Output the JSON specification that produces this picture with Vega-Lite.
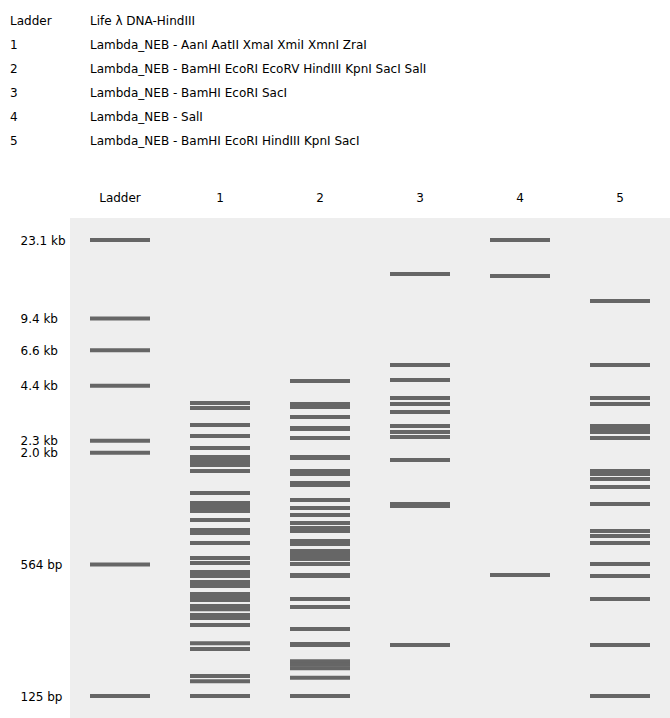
{
  "$schema": "https://vega.github.io/schema/vega-lite/v6.json",
  "padding": {"left": 10, "top": 9, "right": 0, "bottom": 0},
  "bounds": "flush",
  "spacing": 65,
  "config": {"font": "DejaVu Sans", "view": {"stroke": null}},
  "datasets": {
    "lanes": [
      {"lane": "Ladder", "desc": "Life λ DNA-HindIII"},
      {"lane": "1", "desc": "Lambda_NEB - AanI AatII XmaI XmiI XmnI ZraI"},
      {"lane": "2", "desc": "Lambda_NEB - BamHI EcoRI EcoRV HindIII KpnI SacI SalI"},
      {"lane": "3", "desc": "Lambda_NEB - BamHI EcoRI SacI"},
      {"lane": "4", "desc": "Lambda_NEB - SalI"},
      {"lane": "5", "desc": "Lambda_NEB - BamHI EcoRI HindIII KpnI SacI"}
    ],
    "bands": [
      {"lane": "Ladder", "bp": 23130}, {"lane": "Ladder", "bp": 9416}, {"lane": "Ladder", "bp": 6557},
      {"lane": "Ladder", "bp": 4361}, {"lane": "Ladder", "bp": 2322}, {"lane": "Ladder", "bp": 2027},
      {"lane": "Ladder", "bp": 564}, {"lane": "Ladder", "bp": 125},

      {"lane": "1", "bp": 3578}, {"lane": "1", "bp": 3380}, {"lane": "1", "bp": 2781}, {"lane": "1", "bp": 2453},
      {"lane": "1", "bp": 2138}, {"lane": "1", "bp": 1929}, {"lane": "1", "bp": 1842}, {"lane": "1", "bp": 1760},
      {"lane": "1", "bp": 1643}, {"lane": "1", "bp": 1277}, {"lane": "1", "bp": 1139}, {"lane": "1", "bp": 1088},
      {"lane": "1", "bp": 1039}, {"lane": "1", "bp": 937}, {"lane": "1", "bp": 836}, {"lane": "1", "bp": 808},
      {"lane": "1", "bp": 720}, {"lane": "1", "bp": 607}, {"lane": "1", "bp": 573}, {"lane": "1", "bp": 517},
      {"lane": "1", "bp": 494}, {"lane": "1", "bp": 461}, {"lane": "1", "bp": 440}, {"lane": "1", "bp": 402},
      {"lane": "1", "bp": 388}, {"lane": "1", "bp": 375}, {"lane": "1", "bp": 350}, {"lane": "1", "bp": 338},
      {"lane": "1", "bp": 316}, {"lane": "1", "bp": 305}, {"lane": "1", "bp": 282}, {"lane": "1", "bp": 229},
      {"lane": "1", "bp": 214}, {"lane": "1", "bp": 157}, {"lane": "1", "bp": 148}, {"lane": "1", "bp": 125},

      {"lane": "2", "bp": 4603}, {"lane": "2", "bp": 3538}, {"lane": "2", "bp": 3418}, {"lane": "2", "bp": 3049},
      {"lane": "2", "bp": 2688}, {"lane": "2", "bp": 2657}, {"lane": "2", "bp": 2397}, {"lane": "2", "bp": 1929},
      {"lane": "2", "bp": 1907}, {"lane": "2", "bp": 1643}, {"lane": "2", "bp": 1587}, {"lane": "2", "bp": 1432},
      {"lane": "2", "bp": 1399}, {"lane": "2", "bp": 1179}, {"lane": "2", "bp": 1076}, {"lane": "2", "bp": 993},
      {"lane": "2", "bp": 906}, {"lane": "2", "bp": 855}, {"lane": "2", "bp": 827}, {"lane": "2", "bp": 737},
      {"lane": "2", "bp": 712}, {"lane": "2", "bp": 657}, {"lane": "2", "bp": 628}, {"lane": "2", "bp": 600},
      {"lane": "2", "bp": 567}, {"lane": "2", "bp": 500}, {"lane": "2", "bp": 494}, {"lane": "2", "bp": 380},
      {"lane": "2", "bp": 346}, {"lane": "2", "bp": 269}, {"lane": "2", "bp": 227}, {"lane": "2", "bp": 224},
      {"lane": "2", "bp": 186}, {"lane": "2", "bp": 179}, {"lane": "2", "bp": 172}, {"lane": "2", "bp": 154},
      {"lane": "2", "bp": 125},

      {"lane": "3", "bp": 15672}, {"lane": "3", "bp": 5528}, {"lane": "3", "bp": 4656}, {"lane": "3", "bp": 3789},
      {"lane": "3", "bp": 3538}, {"lane": "3", "bp": 3228}, {"lane": "3", "bp": 2750}, {"lane": "3", "bp": 2567},
      {"lane": "3", "bp": 2425}, {"lane": "3", "bp": 1863}, {"lane": "3", "bp": 1126}, {"lane": "3", "bp": 1100},
      {"lane": "3", "bp": 224},

      {"lane": "4", "bp": 23130}, {"lane": "4", "bp": 15317}, {"lane": "4", "bp": 500},

      {"lane": "5", "bp": 11505}, {"lane": "5", "bp": 5528}, {"lane": "5", "bp": 3789}, {"lane": "5", "bp": 3538},
      {"lane": "5", "bp": 2750}, {"lane": "5", "bp": 2657}, {"lane": "5", "bp": 2567}, {"lane": "5", "bp": 2397},
      {"lane": "5", "bp": 1643}, {"lane": "5", "bp": 1587}, {"lane": "5", "bp": 1499}, {"lane": "5", "bp": 1368},
      {"lane": "5", "bp": 1126}, {"lane": "5", "bp": 827}, {"lane": "5", "bp": 781}, {"lane": "5", "bp": 720},
      {"lane": "5", "bp": 567}, {"lane": "5", "bp": 494}, {"lane": "5", "bp": 380}, {"lane": "5", "bp": 224},
      {"lane": "5", "bp": 125}
    ]
  },
  "vconcat": [
    {
      "width": 600,
      "height": 144,
      "data": {"name": "lanes"},
      "transform": [{"fold": ["lane", "desc"], "as": ["column", "label"]}],
      "mark": {"type": "text", "align": "left", "baseline": "middle", "fontSize": 12, "color": "#000"},
      "encoding": {
        "x": {
          "field": "column",
          "type": "nominal",
          "scale": {"type": "point", "domain": ["lane", "desc"], "range": [-60, 20], "padding": 0},
          "axis": null
        },
        "y": {
          "field": "lane",
          "type": "ordinal",
          "sort": ["Ladder", "1", "2", "3", "4", "5"],
          "axis": null
        },
        "text": {"field": "label"}
      }
    },
    {
      "width": 600,
      "height": 500,
      "view": {"fill": "#eeeeee", "stroke": null},
      "data": {"name": "bands"},
      "mark": {"type": "tick", "thickness": 4, "color": "#666666", "opacity": 1},
      "encoding": {
        "x": {
          "field": "lane",
          "type": "nominal",
          "scale": {
            "domain": ["Ladder", "1", "2", "3", "4", "5"],
            "paddingInner": 0.4,
            "paddingOuter": 0.2
          },
          "axis": {
            "orient": "top",
            "title": null,
            "ticks": false,
            "tickSize": 0,
            "domain": false,
            "labelAngle": 0,
            "labelPadding": 14,
            "labelFontSize": 12,
            "labelColor": "#000"
          }
        },
        "y": {
          "field": "bp",
          "type": "quantitative",
          "scale": {"type": "log", "domain": [97.2, 29760], "nice": false},
          "axis": {
            "title": null,
            "values": [23130, 9416, 6557, 4361, 2322, 2027, 564, 125],
            "labelExpr": "datum.value >= 1000 ? format(datum.value / 1000, '.1f') + ' kb' : datum.value + ' bp'",
            "grid": false,
            "ticks": false,
            "tickSize": 0,
            "domain": false,
            "labelAlign": "left",
            "labelBaseline": "middle",
            "labelPadding": 50,
            "labelFontSize": 12,
            "labelColor": "#000",
            "labelOverlap": false,
            "labelFlush": false
          }
        },
        "size": {"value": 60}
      }
    }
  ]
}
